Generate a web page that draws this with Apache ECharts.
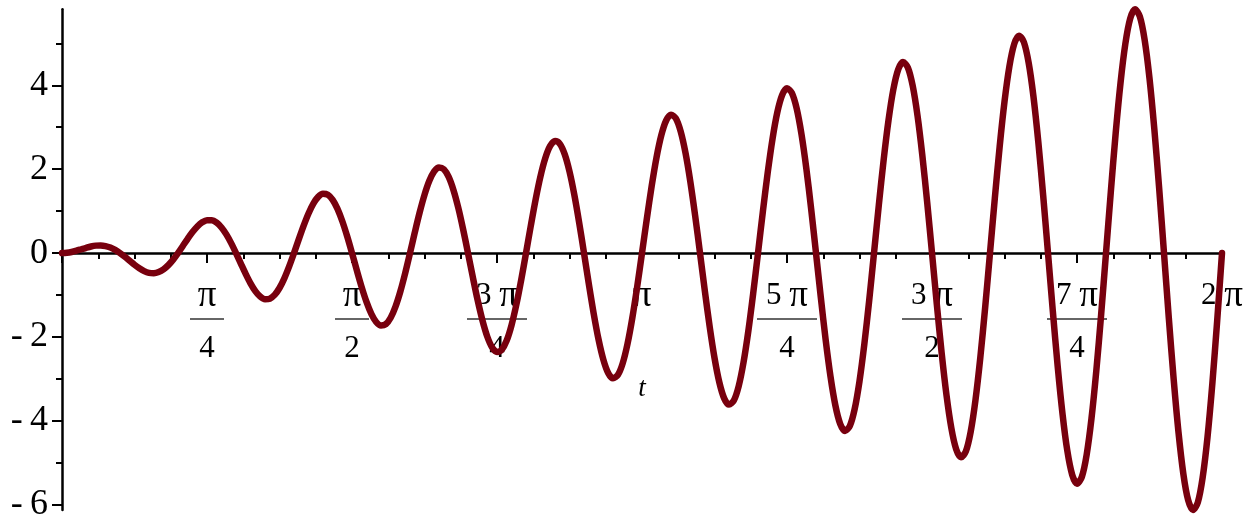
<!DOCTYPE html>
<html>
<head>
<meta charset="utf-8">
<script src="https://cdn.jsdelivr.net/npm/echarts@6/dist/echarts.min.js"></script>
<style>
  html, body { margin: 0; padding: 0; background: #fff; }
  #chart { width: 1255px; height: 523px; }
</style>
</head>
<body>
<div id="chart"></div>
<script>
// Sample points of the curve y(t) on [0, 2π]
const tValues = [
  0, 0.0262, 0.0524, 0.0785, 0.1047, 0.1309, 0.1571, 0.1833, 0.2094, 0.2356, 0.2618, 0.2880,
  0.3142, 0.3403, 0.3665, 0.3927, 0.4189, 0.4451, 0.4712, 0.4974, 0.5236, 0.5498, 0.5760, 0.6021,
  0.6283, 0.6545, 0.6807, 0.7069, 0.7330, 0.7592, 0.7854, 0.8116, 0.8378, 0.8639, 0.8901, 0.9163,
  0.9425, 0.9687, 0.9948, 1.0210, 1.0472, 1.0734, 1.0996, 1.1257, 1.1519, 1.1781, 1.2043, 1.2305,
  1.2566, 1.2828, 1.3090, 1.3352, 1.3614, 1.3875, 1.4137, 1.4399, 1.4661, 1.4923, 1.5184, 1.5446,
  1.5708, 1.5970, 1.6232, 1.6493, 1.6755, 1.7017, 1.7279, 1.7541, 1.7802, 1.8064, 1.8326, 1.8588,
  1.8850, 1.9111, 1.9373, 1.9635, 1.9897, 2.0159, 2.0420, 2.0682, 2.0944, 2.1206, 2.1468, 2.1729,
  2.1991, 2.2253, 2.2515, 2.2777, 2.3038, 2.3300, 2.3562, 2.3824, 2.4086, 2.4347, 2.4609, 2.4871,
  2.5133, 2.5395, 2.5656, 2.5918, 2.6180, 2.6442, 2.6704, 2.6965, 2.7227, 2.7489, 2.7751, 2.8013,
  2.8274, 2.8536, 2.8798, 2.9060, 2.9322, 2.9583, 2.9845, 3.0107, 3.0369, 3.0631, 3.0892, 3.1154,
  3.1416, 3.1678, 3.1940, 3.2201, 3.2463, 3.2725, 3.2987, 3.3249, 3.3510, 3.3772, 3.4034, 3.4296,
  3.4558, 3.4819, 3.5081, 3.5343, 3.5605, 3.5867, 3.6128, 3.6390, 3.6652, 3.6914, 3.7176, 3.7437,
  3.7699, 3.7961, 3.8223, 3.8485, 3.8746, 3.9008, 3.9270, 3.9532, 3.9794, 4.0055, 4.0317, 4.0579,
  4.0841, 4.1103, 4.1364, 4.1626, 4.1888, 4.2150, 4.2412, 4.2673, 4.2935, 4.3197, 4.3459, 4.3721,
  4.3982, 4.4244, 4.4506, 4.4768, 4.5029, 4.5291, 4.5553, 4.5815, 4.6077, 4.6339, 4.6600, 4.6862,
  4.7124, 4.7386, 4.7647, 4.7909, 4.8171, 4.8433, 4.8695, 4.8957, 4.9218, 4.9480, 4.9742, 5.0004,
  5.0265, 5.0527, 5.0789, 5.1051, 5.1313, 5.1575, 5.1836, 5.2098, 5.2360, 5.2622, 5.2883, 5.3145,
  5.3407, 5.3669, 5.3931, 5.4193, 5.4454, 5.4716, 5.4978, 5.5240, 5.5501, 5.5763, 5.6025, 5.6287,
  5.6549, 5.6811, 5.7072, 5.7334, 5.7596, 5.7858, 5.8119, 5.8381, 5.8643, 5.8905, 5.9166, 5.9429,
  5.9690, 5.9952, 6.0214, 6.0476, 6.0737, 6.0999, 6.1261, 6.1523, 6.1784, 6.2047, 6.2308, 6.2570,
  6.2832
];
const yValues = [
  0, 0.007, 0.026, 0.056, 0.091, 0.126, 0.157, 0.177, 0.181, 0.167, 0.131, 0.075,
  0, -0.088, -0.183, -0.278, -0.363, -0.430, -0.471, -0.480, -0.453, -0.389, -0.288, -0.156,
  0, 0.169, 0.340, 0.500, 0.635, 0.733, 0.785, 0.784, 0.726, 0.611, 0.445, 0.237,
  0, -0.251, -0.497, -0.722, -0.907, -1.037, -1.100, -1.087, -0.998, -0.833, -0.602, -0.318,
  0, 0.332, 0.654, 0.944, 1.179, 1.340, 1.414, 1.391, 1.270, 1.055, 0.759, 0.400,
  0, -0.413, -0.812, -1.166, -1.451, -1.644, -1.728, -1.694, -1.542, -1.277, -0.916, -0.481,
  0, 0.495, 0.969, 1.388, 1.723, 1.947, 2.042, 1.998, 1.814, 1.499, 1.073, 0.562,
  0, -0.576, -1.126, -1.611, -1.995, -2.251, -2.356, -2.301, -2.086, -1.722, -1.230, -0.644,
  0, 0.657, 1.283, 1.833, 2.267, 2.554, 2.670, 2.605, 2.358, 1.944, 1.388, 0.725,
  0, -0.739, -1.440, -2.055, -2.539, -2.858, -2.985, -2.908, -2.630, -2.166, -1.545, -0.806,
  0, 0.820, 1.597, 2.277, 2.811, 3.161, 3.299, 3.212, 2.902, 2.388, 1.702, 0.888,
  0, -0.901, -1.754, -2.499, -3.083, -3.464, -3.613, -3.515, -3.174, -2.610, -1.859, -0.969,
  0, 0.983, 1.911, 2.721, 3.356, 3.768, 3.927, 3.818, 3.446, 2.832, 2.016, 1.050,
  0, -1.064, -2.068, -2.943, -3.628, -4.071, -4.241, -4.122, -3.718, -3.054, -2.173, -1.132,
  0, 1.145, 2.225, 3.166, 3.900, 4.375, 4.555, 4.425, 3.990, 3.277, 2.330, 1.213,
  0, -1.226, -2.382, -3.388, -4.172, -4.678, -4.869, -4.729, -4.262, -3.499, -2.487, -1.294,
  0, 1.308, 2.539, 3.610, 4.444, 4.982, 5.184, 5.032, 4.534, 3.721, 2.644, 1.376,
  0, -1.389, -2.697, -3.832, -4.716, -5.285, -5.498, -5.336, -4.807, -3.943, -2.801, -1.457,
  0, 1.470, 2.854, 4.054, 4.988, 5.589, 5.812, 5.639, 5.079, 4.165, 2.958, 1.538,
  0, -1.552, -3.011, -4.276, -5.260, -5.892, -6.126, -5.943, -5.351, -4.387, -3.115, -1.619,
  0
];

// x-axis tick labels at multiples of π/4: coefficient · π over denominator
const xTickCoefficients = ['', '',  '',  '3', '', '5', '3', '7', '2'];
const xTickDenominators = ['', '4', '2', '4', '', '4', '2', '4', ''];

// y-axis ticks
const yMajorTicks = [-6, -4, -2, 0, 2, 4];
const yMinorTicks = [-5, -3, -1, 1, 3, 5];
const yMin = -6.126;
const yMax = 5.812;

const SERIF = "'Liberation Serif', 'Times New Roman', serif";
const STEP = Math.PI / 4;

function xLabel(value) {
  const k = Math.round(value / STEP);
  if (k <= 0 || k >= xTickCoefficients.length) return '';
  const coef = xTickCoefficients[k];
  const den = xTickDenominators[k];
  const num = (coef ? '{c|' + coef + ' }' : '') + '{p|π}';
  if (!den) return num;
  const bar = coef ? '{bw|}' : '{bn|}';
  return num + '\n' + bar + '\n{d|' + den + '}';
}

function yLabel(value) {
  return value < 0 ? '-\u2009' + (-value) : String(value);
}

const chart = echarts.init(document.getElementById('chart'), null, { renderer: 'canvas' });
const axisColor = '#000';

const option = {
  animation: false,
  backgroundColor: '#fff',
  grid: { left: 62, right: 33, top: 9.3, bottom: 13, containLabel: false, outerBoundsMode: 'none' },
  xAxis: [
    {
      // axis line and ticks through y = 0
      type: 'value',
      min: 0,
      max: 2 * Math.PI,
      interval: STEP,
      axisLine: { onZero: true, lineStyle: { color: axisColor, width: 2.5 } },
      axisTick: { show: true, length: 10, lineStyle: { color: axisColor, width: 2 } },
      minorTick: { show: true, splitNumber: 4, length: 6, lineStyle: { color: axisColor, width: 2 } },
      splitLine: { show: false },
      minorSplitLine: { show: false },
      axisLabel: { show: false }
    },
    {
      // fraction labels and axis name, shifted up to the zero line
      type: 'value',
      min: 0,
      max: 2 * Math.PI,
      interval: STEP,
      position: 'bottom',
      offset: 0,
      name: 't',
      nameLocation: 'middle',
      nameGap: 122,
      nameTextStyle: { fontFamily: SERIF, fontStyle: 'italic', fontSize: 27, color: '#000' },
      axisLine: { show: false, onZero: false },
      axisTick: { show: false },
      splitLine: { show: false },
      axisLabel: {
        show: true,
        margin: 24,
        verticalAlign: 'top',
        formatter: xLabel,
        showMinLabel: true,
        showMaxLabel: true,
        rich: {
          c: { fontFamily: SERIF, fontSize: 31, lineHeight: 38, color: '#000' },
          p: { fontFamily: SERIF, fontSize: 37, lineHeight: 38, color: '#000' },
          d: { fontFamily: SERIF, fontSize: 31, lineHeight: 52, color: '#000' },
          bn: { width: 34, height: 1.4, lineHeight: 8, backgroundColor: '#333' },
          bw: { width: 60, height: 1.4, lineHeight: 8, backgroundColor: '#333' }
        }
      }
    }
  ],
  yAxis: [
    {
      type: 'value',
      min: yMin,
      max: yMax,
      position: 'left',
      axisLine: { show: true, onZero: false, lineStyle: { color: axisColor, width: 2.5 } },
      axisTick: { show: true, length: 10, customValues: yMajorTicks, lineStyle: { color: axisColor, width: 2 } },
      splitLine: { show: false },
      axisLabel: {
        show: true,
        customValues: yMajorTicks,
        margin: 14,
        fontFamily: SERIF,
        fontSize: 36,
        color: '#000',
        formatter: yLabel
      }
    },
    {
      type: 'value',
      min: yMin,
      max: yMax,
      position: 'left',
      offset: 0,
      axisLine: { show: false, onZero: false },
      axisTick: { show: true, length: 6, customValues: yMinorTicks, lineStyle: { color: axisColor, width: 2 } },
      splitLine: { show: false },
      axisLabel: { show: false }
    }
  ],
  series: [
    {
      type: 'line',
      xAxisIndex: 0,
      yAxisIndex: 0,
      data: tValues.map((t, i) => [t, yValues[i]]),
      smooth: 0.3,
      showSymbol: false,
      clip: false,
      lineStyle: { color: '#78000e', width: 6.5, cap: 'round', join: 'round' },
      z: 3
    }
  ]
};

chart.setOption(option);

// move the label axis from the grid bottom up to y = 0
const zeroPx = chart.convertToPixel({ yAxisIndex: 0 }, 0);
const bottomPx = chart.convertToPixel({ yAxisIndex: 0 }, yMin);
chart.setOption({ xAxis: [{}, { offset: zeroPx - bottomPx }] });
</script>
</body>
</html>
